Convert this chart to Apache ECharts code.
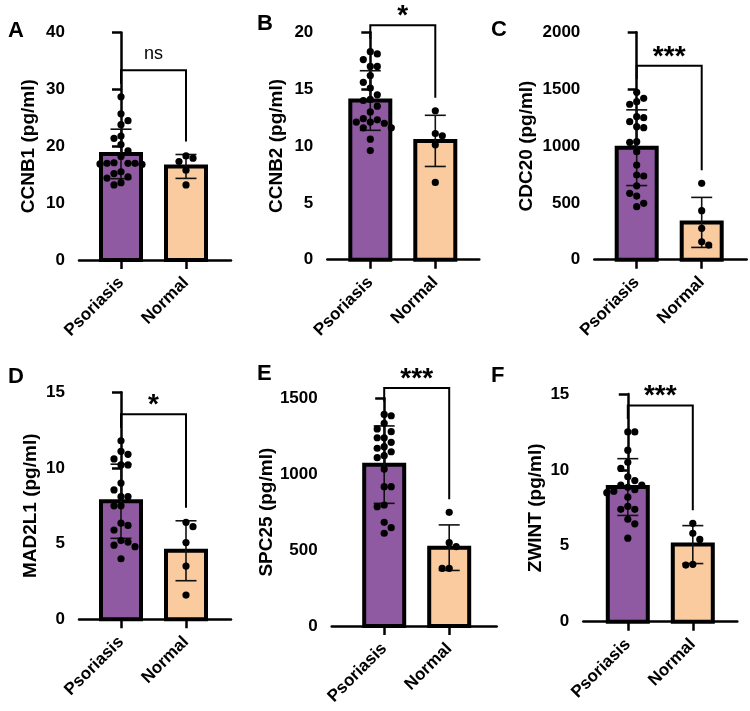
<!DOCTYPE html>
<html><head><meta charset="utf-8">
<script src="https://cdn.jsdelivr.net/npm/echarts@6/dist/echarts.min.js"></script>
<style>html,body{margin:0;padding:0;background:#fff}#c{width:750px;height:711px}</style>
</head><body><div id="c"></div>
<script>
// ---------- data ----------
const categories = ['Psoriasis', 'Normal'];
const panelLetters = ['A', 'B', 'C', 'D', 'E', 'F'];
const yNames = ['CCNB1 (pg/ml)', 'CCNB2 (pg/ml)', 'CDC20 (pg/ml)', 'MAD2L1 (pg/ml)', 'SPC25 (pg/ml)', 'ZWINT (pg/ml)'];
const yMax = [40, 20, 2000, 15, 1500, 15];
const yInterval = [10, 5, 500, 5, 500, 5];
const significance = ['ns', '*', '***', '*', '***', '***'];

const psoriasisMean = [18.65, 14.0, 985, 7.8, 1063, 8.87];
const psoriasisSD   = [4.35, 2.62, 333, 2.45, 255, 1.87];
const normalMean    = [16.45, 10.45, 328, 4.53, 516, 5.08];
const normalSD      = [2.1, 2.25, 220, 1.98, 150, 1.25];

const psoriasisA = [28.7, 25.7, 24.5, 23.8, 21.8, 21.4, 20.3, 19.2, 18.2, 17.0, 17.0, 17.0, 16.9, 17.1, 16.8, 15.5, 15.2, 14.6, 14.4, 13.6, 13.2];
const normalA    = [18.3, 17.9, 17.3, 15.8, 13.2];
const psoriasisB = [18.3, 18.1, 17.6, 17.0, 17.0, 16.2, 15.6, 15.1, 14.5, 14.1, 14.0, 13.5, 13.0, 12.4, 12.3, 12.1, 12.1, 12.0, 11.6, 11.6, 10.6, 9.6];
const normalB    = [13.1, 10.9, 11.1, 10.1, 6.8];
const psoriasisC = [1472, 1419, 1390, 1367, 1258, 1249, 1214, 1170, 1161, 1038, 1033, 950, 833, 745, 736, 650, 584, 560, 496, 466];
const normalC    = [672, 431, 276, 129, 158];
const psoriasisD = [11.8, 11.1, 10.9, 10.6, 10.2, 10.2, 9.0, 8.55, 8.1, 8.1, 7.5, 7.5, 6.35, 6.2, 5.9, 5.2, 5.1, 4.9, 4.8, 4.0];
const normalD    = [6.41, 6.12, 5.07, 3.52, 1.6];
const psoriasisE = [1394, 1385, 1335, 1298, 1280, 1240, 1240, 1210, 1181, 1171, 1148, 1122, 1109, 1034, 918, 918, 797, 786, 683, 648, 611];
const normalE    = [749, 523, 549, 380, 380];
const psoriasisF = [12.5, 12.5, 11.3, 10.5, 10.1, 9.55, 9.3, 9.0, 9.0, 8.85, 8.7, 8.6, 8.5, 8.2, 7.6, 7.4, 7.4, 6.75, 6.45, 5.5];
const normalF    = [6.48, 5.42, 5.82, 3.73, 3.78];

const psoriasisPoints = [psoriasisA, psoriasisB, psoriasisC, psoriasisD, psoriasisE, psoriasisF];
const normalPoints = [normalA, normalB, normalC, normalD, normalE, normalF];

// ---------- layout (pixels) ----------
const layout = [
  {left: 79,    top: 32.5,  height: 227.5, width: 152, off: 42,   nameGap: 41, letter: [8, 31]},
  {left: 327.3, top: 32.3,  height: 227.4, width: 152, off: 43,   nameGap: 41, letter: [257, 24]},
  {left: 594.3, top: 32.3,  height: 227.4, width: 152.4, off: 42.4, nameGap: 58, letter: [491, 30]},
  {left: 79,    top: 392.3, height: 227,   width: 152, off: 42,   nameGap: 39, letter: [8, 377]},
  {left: 331.7, top: 398.3, height: 227.7, width: 165, off: 52.5, nameGap: 48, letter: [257, 374]},
  {left: 583.3, top: 394,   height: 227.7, width: 154, off: 44.5, nameGap: 38, letter: [491, 376]}
];
const SPACING = 65;
const FONT = 'Liberation Sans, Arial, sans-serif';
const barColors = ['#8F5AA1', '#F9CB9F'];
const DOT = 7.2;

// lane-based scatter layout (GraphPad-like): points share a lane only if far apart vertically
function swarm(values, pxPerY, pxPerX, laneW, minGap) {
  const order = values.map((v, i) => i).sort((a, b) => values[b] - values[a]);
  const lanes = {};
  const xs = new Array(values.length);
  let side = 1;
  for (const i of order) {
    const y = values[i] * pxPerY;
    let chosen = 0;
    const tryLanes = [0];
    for (let k = 1; k <= 4; k++) { tryLanes.push(k * side, -k * side); }
    for (const ln of tryLanes) {
      const used = lanes[ln] || [];
      if (used.every(u => Math.abs(u - y) >= minGap)) { chosen = ln; break; }
    }
    if (chosen !== 0) side = -side;
    (lanes[chosen] = lanes[chosen] || []).push(y);
    xs[i] = chosen * laneW / pxPerX;
  }
  return xs;
}

const grids = [], xAxes = [], yAxes = [], series = [], graphics = [];
const axisLineStyle = {color: '#000', width: 2.5};

layout.forEach((L, i) => {
  const xmin = -L.off / SPACING;
  const xmax = 1 + (L.width - L.off - SPACING) / SPACING;
  grids.push({left: L.left, top: L.top, width: L.width, height: L.height, containLabel: false});
  xAxes.push({
    gridIndex: i, type: 'value', min: xmin, max: xmax,
    axisLine: {show: true, onZero: false, lineStyle: axisLineStyle},
    axisTick: {show: true, customValues: [0, 1], length: 9, lineStyle: axisLineStyle},
    axisLabel: {customValues: [0, 1], formatter: v => categories[Math.round(v)], rotate: 45,
      fontSize: 17, fontWeight: 'bold', fontFamily: FONT, color: '#000', margin: 20},
    splitLine: {show: false}
  });
  yAxes.push({
    gridIndex: i, type: 'value', min: 0, max: yMax[i], interval: yInterval[i],
    axisLine: {show: true, lineStyle: axisLineStyle},
    axisTick: {show: true, length: 9, lineStyle: axisLineStyle},
    axisLabel: {fontSize: 17, fontWeight: 'bold', fontFamily: FONT, color: '#000', margin: 14,
      formatter: v => String(v)},
    splitLine: {show: false},
    name: yNames[i], nameLocation: 'middle', nameGap: L.nameGap,
    nameTextStyle: {fontSize: 19, fontWeight: 'bold', fontFamily: FONT, color: '#000'}
  });

  // bars + error bars
  series.push({
    type: 'custom', xAxisIndex: i, yAxisIndex: i, z: 2, clip: false,
    data: [[0, psoriasisMean[i], psoriasisSD[i], 0], [1, normalMean[i], normalSD[i], 1]],
    renderItem: (params, api) => {
      const x = api.value(0), m = api.value(1), sd = api.value(2), ci = api.value(3);
      const top = api.coord([x, m]);
      const base = api.coord([x, 0]);
      const hi = api.coord([x, m + sd]);
      const lo = api.coord([x, m - sd]);
      const hw = 20, cap = 10.5;
      return {type: 'group', children: [
        {type: 'rect', shape: {x: top[0] - hw, y: top[1], width: hw * 2, height: base[1] - top[1]},
          style: {fill: barColors[ci], stroke: '#000', lineWidth: 4}},
        {type: 'line', shape: {x1: top[0], y1: hi[1], x2: top[0], y2: lo[1]}, style: {stroke: '#111', lineWidth: 1.6}},
        {type: 'line', shape: {x1: top[0] - cap, y1: hi[1], x2: top[0] + cap, y2: hi[1]}, style: {stroke: '#111', lineWidth: 1.6}},
        {type: 'line', shape: {x1: top[0] - cap, y1: lo[1], x2: top[0] + cap, y2: lo[1]}, style: {stroke: '#111', lineWidth: 1.6}}
      ]};
    }
  });

  const pxPerY = L.height / yMax[i];
  [psoriasisPoints[i], normalPoints[i]].forEach((vals, g) => {
    const xs = swarm(vals, pxPerY, SPACING, 7, 8.5);
    series.push({
      type: 'scatter', xAxisIndex: i, yAxisIndex: i, z: 4, symbolSize: DOT,
      itemStyle: {color: '#000', opacity: 1}, silent: true,
      data: vals.map((v, k) => [g + xs[k], v])
    });
  });

  // significance bracket
  const top0 = Math.max(Math.max(...psoriasisPoints[i]), psoriasisMean[i] + psoriasisSD[i]);
  const top1 = Math.max(Math.max(...normalPoints[i]), normalMean[i] + normalSD[i]);
  const label = significance[i];
  series.push({
    type: 'custom', xAxisIndex: i, yAxisIndex: i, z: 5, clip: false,
    data: [[0, top0, 1, top1]],
    renderItem: (params, api) => {
      const p0 = api.coord([api.value(0), api.value(1)]);
      const p1 = api.coord([api.value(2), api.value(3)]);
      const l0 = p0[1] - 13, l1 = p1[1] - 13;
      const t = Math.min(l0, l1) - 13.5;
      const isStar = label !== 'ns';
      return {type: 'group', children: [
        {type: 'polyline', shape: {points: [[p0[0], l0], [p0[0], t], [p1[0], t], [p1[0], l1]]},
          style: {stroke: '#000', lineWidth: 2, fill: null}},
        {type: 'text', x: (p0[0] + p1[0]) / 2, y: isStar ? t - 9 : t - 16,
          style: {text: label, fill: '#000', align: 'center', verticalAlign: 'middle',
            font: (isStar ? 'bold 28px ' : '18px ') + FONT}}
      ]};
    }
  });

  graphics.push({type: 'text', left: L.letter[0], top: L.letter[1] - 11,
    style: {text: panelLetters[i], fill: '#000', font: 'bold 22px ' + FONT}});
});

const chart = echarts.init(document.getElementById('c'), null, {renderer: 'canvas'});
chart.setOption({
  animation: false,
  backgroundColor: '#fff',
  grid: grids, xAxis: xAxes, yAxis: yAxes, series: series, graphic: graphics
});
</script>
</body></html>
